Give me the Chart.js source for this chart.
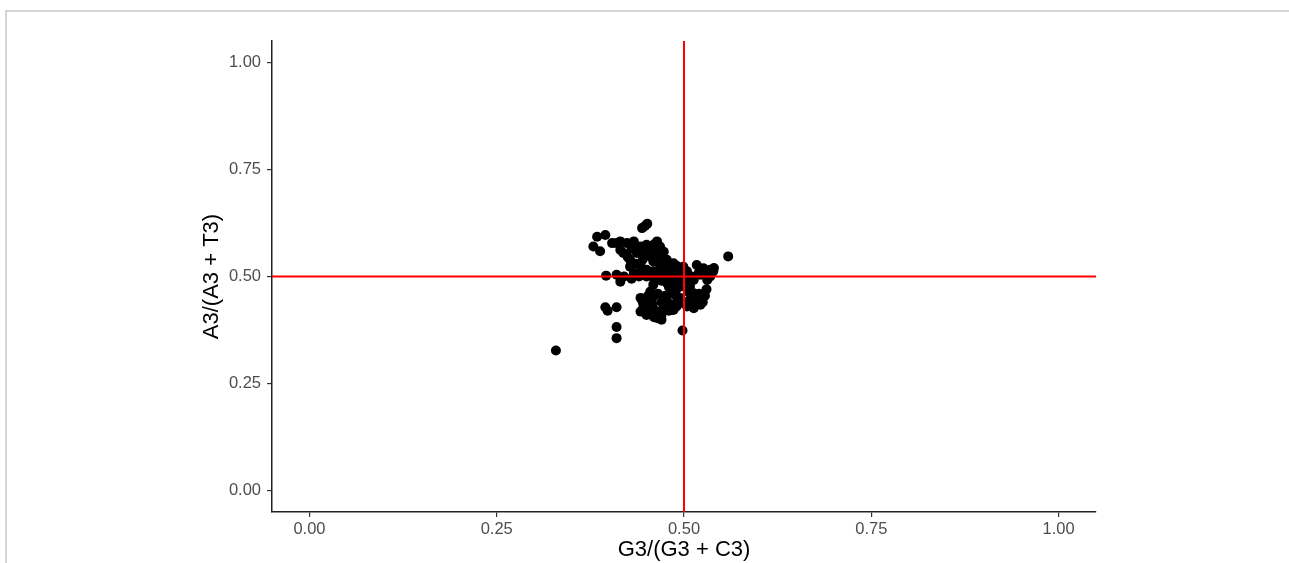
<!DOCTYPE html>
<html>
<head>
<meta charset="utf-8">
<script src="https://cdn.jsdelivr.net/npm/chart.js@4.4.1/dist/chart.umd.min.js"></script>
<style>
html,body{margin:0;padding:0;background:#fff;}
#wrap{width:1289px;height:563px;position:relative;}
</style>
</head>
<body>
<div id="wrap"><canvas id="c" width="1289" height="563"></canvas></div>
<script>
// Data: G3/(G3+C3) vs A3/(A3+T3)
const xValues = [0.329,0.410,0.410,0.498,0.559,0.444,0.451,0.448,0.395,0.398,0.410,0.396,0.410,0.415,
0.384,0.395,0.379,0.388,0.404,0.415,
0.424,0.433,0.442,0.450,0.464,0.468,0.473,0.437,0.446,0.455,0.428,0.442,0.459,0.468,0.477,0.486,0.495,0.504,
0.517,0.526,0.535,0.539,0.522,0.531,0.513,0.504,0.495,0.486,0.477,0.468,0.459,0.450,0.442,0.433,0.428,0.419,0.415,
0.459,0.477,0.486,0.495,0.508,0.513,0.517,0.522,0.513,0.504,0.495,0.490,0.482,0.477,0.473,0.468,0.464,0.470,
0.455,0.450,0.446,0.442,0.442,0.455,0.459,0.484,0.486,0.508,
0.410,0.450,0.464,0.477,0.486,0.499,
0.445,0.450,0.458,0.462,0.470,0.475,0.480,0.490,0.495,0.500,0.510,0.515,0.520,0.525,0.528,0.530,0.505,0.490,0.480,0.465,0.452,0.470,0.460,
0.430,0.440,0.455,0.460,0.470,0.480,0.490,0.500,0.510,0.520,0.528,0.535,0.540,0.445,0.435,0.425,0.450,0.460,0.470,0.480,0.440,0.430,0.420];
const yValues = [0.327,0.356,0.382,0.374,0.547,0.613,0.623,0.618,0.428,0.420,0.428,0.502,0.504,0.488,
0.593,0.597,0.570,0.559,0.578,0.582,
0.578,0.582,0.570,0.574,0.582,0.570,0.558,0.555,0.551,0.547,0.539,0.531,0.535,0.527,0.523,0.519,0.516,0.512,
0.527,0.519,0.516,0.512,0.504,0.492,0.492,0.492,0.496,0.500,0.504,0.508,0.512,0.516,0.512,0.508,0.523,0.555,0.562,
0.481,0.485,0.489,0.477,0.477,0.461,0.446,0.434,0.426,0.430,0.438,0.453,0.461,0.446,0.430,0.414,0.403,0.399,
0.422,0.446,0.430,0.418,0.450,0.465,0.453,0.434,0.422,0.446,
0.578,0.562,0.555,0.539,0.531,0.523,
0.440,0.410,0.435,0.420,0.440,0.455,0.420,0.430,0.450,0.440,0.435,0.450,0.460,0.440,0.455,0.470,0.465,0.470,0.475,0.460,0.455,0.410,0.405,
0.565,0.560,0.565,0.575,0.545,0.530,0.525,0.505,0.500,0.510,0.505,0.500,0.520,0.540,0.530,0.545,0.500,0.495,0.490,0.495,0.500,0.495,0.500];
const tickValues = [0, 0.25, 0.5, 0.75, 1.0];
const tickLabels = ["0.00", "0.25", "0.50", "0.75", "1.00"];
const refX = 0.5;
const refY = 0.5;
const axisMin = -0.05, axisMax = 1.05;

const points = xValues.map((x, i) => ({x: x, y: yValues[i]}));

const framePlugin = {
  id: 'frame',
  beforeDraw(chart) {
    const ctx = chart.ctx;
    ctx.save();
    ctx.fillStyle = '#fff';
    ctx.fillRect(0, 0, chart.width, chart.height);
    ctx.strokeStyle = '#c8c8c8';
    ctx.lineWidth = 1.5;
    ctx.beginPath();
    ctx.moveTo(6, 563);
    ctx.lineTo(6, 11);
    ctx.lineTo(1289, 11);
    ctx.stroke();
    ctx.restore();
  }
};

const tickFont = {family: '"Liberation Sans", Arial, sans-serif', size: 16.5};
const titleFont = {family: '"Liberation Sans", Arial, sans-serif', size: 22};

function fixTicks(scale) {
  scale.ticks = tickValues.map(v => ({value: v}));
}

new Chart(document.getElementById('c'), {
  data: {
    datasets: [
      {
        type: 'scatter',
        data: points,
        backgroundColor: '#000',
        borderWidth: 0,
        pointRadius: 5,
        pointHoverRadius: 5,
        order: 2
      },
      {
        type: 'line',
        data: [{x: refX, y: axisMin}, {x: refX, y: axisMax}],
        borderColor: '#ff0000',
        borderWidth: 2,
        pointRadius: 0,
        fill: false,
        order: 0
      },
      {
        type: 'line',
        data: [{x: axisMin, y: refY}, {x: axisMax, y: refY}],
        borderColor: '#ff0000',
        borderWidth: 2,
        pointRadius: 0,
        fill: false,
        order: 0
      }
    ]
  },
  options: {
    responsive: false,
    animation: false,
    events: [],
    layout: {padding: {left: 199, top: 41, right: 193, bottom: 0}},
    plugins: {legend: {display: false}, tooltip: {enabled: false}},
    scales: {
      x: {
        type: 'linear',
        min: axisMin,
        max: axisMax,
        afterBuildTicks: fixTicks,
        afterFit(scale) { scale.height = 51; },
        grid: {display: true, drawOnChartArea: false, drawTicks: true, tickLength: 5, color: '#333', lineWidth: 1.2},
        border: {display: true, color: '#222', width: 1.5},
        ticks: {
          font: tickFont, color: '#4d4d4d', padding: 3, maxRotation: 0,
          callback: (v) => { const i = tickValues.indexOf(v); return i >= 0 ? tickLabels[i] : ''; }
        },
        title: {display: true, text: 'G3/(G3 + C3)', font: titleFont, color: '#000', padding: {top: 0, bottom: 0}}
      },
      y: {
        type: 'linear',
        min: axisMin,
        max: axisMax,
        afterBuildTicks: fixTicks,
        afterFit(scale) { scale.width = 73; },
        grid: {display: true, drawOnChartArea: false, drawTicks: true, tickLength: 5, color: '#333', lineWidth: 1.2},
        border: {display: true, color: '#222', width: 1.5},
        ticks: {
          font: tickFont, color: '#4d4d4d', padding: 6,
          callback: (v) => { const i = tickValues.indexOf(v); return i >= 0 ? tickLabels[i] : ''; }
        },
        title: {display: true, text: 'A3/(A3 + T3)', font: titleFont, color: '#000', padding: {top: 0, bottom: 0}}
      }
    }
  },
  plugins: [framePlugin]
});
</script>
</body>
</html>
